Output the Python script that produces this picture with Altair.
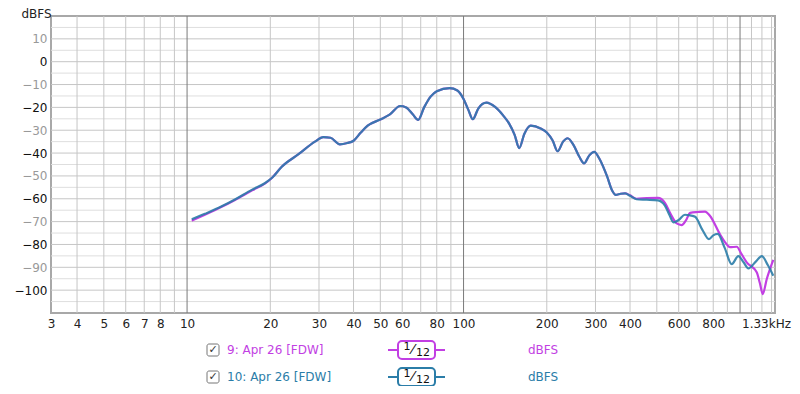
import altair as alt
import pandas as pd

# ---- data ----
FREQ_10 = [10.4, 11.6, 13.4, 14.9, 17.2, 19.1, 20.3, 22.0, 25.3, 29.0, 31.1, 33.0, 35.7, 38.0, 40.0,
           42.5, 45.0, 50.0, 54.0, 59.0, 62.0, 65.5, 68.5, 72.0, 76.0, 80.0, 89.0, 95.0, 100.0, 104.0,
           108.0, 113.0, 121.0, 130.0, 139.0, 146.0, 153.0, 159.0, 166.0, 175.0, 190.0, 200.0, 210.0,
           219.0, 229.0, 238.0, 250.0, 262.0, 273.0, 285.0, 297.0, 310.0, 330.0, 345.0, 355.0, 370.0,
           384.0, 400.0, 422.0, 460.0, 505.0, 535.0, 555.0, 574.0, 600.0, 632.0, 660.0, 688.0, 730.0,
           772.0, 800.0, 830.0, 880.0, 933.0, 986.0, 1030.0, 1072.0, 1140.0, 1199.0, 1260.0, 1319.0]
DB_10 = [-69.0, -66.6, -63.2, -60.3, -56.0, -53.2, -50.8, -46.0, -40.5, -35.0, -33.0, -33.3, -36.2, -35.6, -34.6,
         -31.0, -28.0, -25.3, -23.2, -19.4, -20.0, -23.0, -25.5, -20.0, -15.3, -12.9, -11.6, -12.6, -16.3, -21.0,
         -25.2, -20.5, -17.9, -19.8, -23.5, -27.0, -32.0, -37.8, -31.5, -28.0, -29.2, -31.0, -34.5,
         -39.2, -35.0, -33.5, -36.5, -41.5, -44.5, -41.0, -39.5, -42.5, -50.0, -56.5, -58.3, -57.8,
         -57.6, -58.7, -60.2, -60.4, -60.7, -63.0, -67.0, -70.3, -69.3, -67.0, -67.3, -67.9, -73.5,
         -77.7, -76.0, -75.4, -81.5, -88.6, -85.1, -87.8, -90.5, -87.5, -85.1, -89.0, -93.7]

FREQ_9 = [10.4, 11.6, 13.4, 14.9, 17.2, 19.1, 20.3, 22.0, 25.3, 29.0, 31.1, 33.0, 35.7, 38.0, 40.0,
          42.5, 45.0, 50.0, 54.0, 59.0, 62.0, 65.5, 68.5, 72.0, 76.0, 80.0, 89.0, 95.0, 100.0, 104.0,
          108.0, 113.0, 121.0, 130.0, 139.0, 146.0, 153.0, 159.0, 166.0, 175.0, 190.0, 200.0, 210.0,
          219.0, 229.0, 238.0, 250.0, 262.0, 273.0, 285.0, 297.0, 310.0, 330.0, 345.0, 355.0, 370.0,
          384.0, 400.0, 422.0, 460.0, 505.0, 535.0, 560.0, 590.0, 615.0, 637.0, 660.0, 705.0, 747.0,
          778.0, 845.0, 882.0, 920.0, 973.0, 1010.0, 1057.0, 1149.0, 1180.0, 1208.0, 1250.0, 1319.0]
DB_9 = [-69.6, -67.0, -63.4, -60.5, -56.3, -53.4, -50.8, -46.0, -40.5, -35.0, -33.0, -33.3, -36.2, -35.6, -34.6,
        -31.0, -28.0, -25.3, -23.2, -19.4, -20.0, -23.0, -25.5, -20.0, -15.3, -12.9, -11.6, -12.6, -16.3, -21.0,
        -25.2, -20.5, -17.9, -19.8, -23.5, -27.0, -32.0, -37.8, -31.5, -28.0, -29.2, -31.0, -34.5,
        -39.2, -35.0, -33.5, -36.5, -41.5, -44.5, -41.0, -39.5, -42.5, -50.0, -56.5, -58.3, -57.8,
        -57.6, -58.5, -60.0, -59.7, -59.6, -61.8, -66.5, -70.8, -71.5, -69.5, -66.2, -65.8, -65.6,
        -67.4, -75.4, -79.0, -81.2, -81.0, -84.0, -87.8, -92.2, -97.0, -101.7, -95.0, -86.7]

SERIES = ["9: Apr 26 [FDW]", "10: Apr 26 [FDW]"]
COLORS = ["#c23fe3", "#2b7da8"]

X_TICKS = [3.22, 4, 5, 6, 7, 8, 10, 20, 30, 40, 50, 60, 80, 100, 200, 300, 400, 600, 800, 1338]
X_GRID_MINOR = [4, 5, 6, 7, 8, 9, 20, 30, 40, 50, 60, 70, 80, 90, 200, 300, 400, 500, 600, 700,
                800, 900, 1100, 1200, 1300]
X_GRID_MAJOR = [10, 100, 1000]
Y_TICKS = [-100, -90, -80, -70, -60, -50, -40, -30, -20, -10, 0, 10]
Y_GRID_MINOR = [-105, -95, -85, -75, -65, -55, -45, -35, -25, -15, -5, 5, 15]

FONT = "DejaVu Sans"

xs = alt.Scale(type="log", domain=[3.22, 1338], nice=False)
ys = alt.Scale(domain=[-110, 20], nice=False)

xa = alt.Axis(values=X_TICKS, grid=False, ticks=False, domain=False, labelOverlap=False,
              labelFlush=False, labelPadding=5, labelFontSize=12, labelFont=FONT, labelColor="#222",
              labelExpr="datum.value < 3.5 ? '3' : (datum.value > 1300 ? '1.33kHz' : format(datum.value, 'd'))",
              labelOffset={"condition": {"test": "datum.value > 1300", "value": -9}, "value": 0},
              title=None)
ya = alt.Axis(values=Y_TICKS, grid=False, ticks=False, domain=False, labelPadding=4,
              labelFontSize=12, labelFont=FONT,
              labelColor={"condition": {"test": "datum.value % 20 == 0", "value": "#111"}, "value": "#999"},
              title="dBFS", titleAngle=0, titleAlign="left", titleBaseline="alphabetic",
              titleX=-30, titleY=1, titleFontWeight="normal", titleFontSize=12, titleFont=FONT,
              titleColor="#222")

df10 = pd.DataFrame({"f": FREQ_10, "db": DB_10})
df9 = pd.DataFrame({"f": FREQ_9, "db": DB_9})

layers = []
# grid
layers.append(alt.Chart(pd.DataFrame({"v": Y_GRID_MINOR})).mark_rule(color="#dedede", strokeWidth=1)
              .encode(y=alt.Y("v:Q", scale=ys, axis=ya)))
layers.append(alt.Chart(pd.DataFrame({"v": Y_TICKS})).mark_rule(color="#c6c6c6", strokeWidth=1)
              .encode(y=alt.Y("v:Q", scale=ys, axis=ya)))
layers.append(alt.Chart(pd.DataFrame({"v": X_GRID_MINOR})).mark_rule(color="#c6c6c6", strokeWidth=1)
              .encode(x=alt.X("v:Q", scale=xs, axis=xa)))
layers.append(alt.Chart(pd.DataFrame({"v": X_GRID_MAJOR})).mark_rule(color="#7a7a7a", strokeWidth=1)
              .encode(x=alt.X("v:Q", scale=xs, axis=xa)))

# curves
layers.append(alt.Chart(df9).mark_line(color=COLORS[0], strokeWidth=2.2, interpolate="monotone")
              .encode(x=alt.X("f:Q", scale=xs, axis=xa), y=alt.Y("db:Q", scale=ys, axis=ya)))
layers.append(alt.Chart(df10).mark_line(color=COLORS[1], strokeWidth=2.2, opacity=0.9, interpolate="monotone")
              .encode(x=alt.X("f:Q", scale=xs, axis=xa), y=alt.Y("db:Q", scale=ys, axis=ya)))

# legend rows below the plot
one = pd.DataFrame({"k": [0]})
for i, (name, col) in enumerate(zip(SERIES, COLORS)):
    cy = 334 + 27 * i
    layers.append(alt.Chart(one).mark_rect(fill="white", stroke="#777", strokeWidth=1, cornerRadius=2)
                  .encode(x=alt.value(156), x2=alt.value(168), y=alt.value(cy - 6), y2=alt.value(cy + 6)))
    layers.append(alt.Chart(one).mark_text(font=FONT, fontSize=11, color="#333", align="center", baseline="middle")
                  .encode(x=alt.value(162), y=alt.value(cy), text=alt.value("✓")))
    layers.append(alt.Chart(one).mark_text(font=FONT, fontSize=12, color=col, align="left", baseline="middle")
                  .encode(x=alt.value(176), y=alt.value(cy), text=alt.value(name)))
    layers.append(alt.Chart(one).mark_rule(color=col, strokeWidth=2)
                  .encode(x=alt.value(337), x2=alt.value(394), y=alt.value(cy)))
    layers.append(alt.Chart(one).mark_rect(fill="white", stroke=col, strokeWidth=2, cornerRadius=4)
                  .encode(x=alt.value(347), x2=alt.value(384), y=alt.value(cy - 9), y2=alt.value(cy + 9)))
    layers.append(alt.Chart(one).mark_text(font=FONT, fontSize=11, color="#111", align="center", baseline="middle")
                  .encode(x=alt.value(356), y=alt.value(cy - 3), text=alt.value("1")))
    layers.append(alt.Chart(one).mark_text(font=FONT, fontSize=14, color="#111", align="center", baseline="middle")
                  .encode(x=alt.value(362), y=alt.value(cy), text=alt.value("⁄")))
    layers.append(alt.Chart(one).mark_text(font=FONT, fontSize=11, color="#111", align="center", baseline="middle")
                  .encode(x=alt.value(372), y=alt.value(cy + 3), text=alt.value("12")))
    layers.append(alt.Chart(one).mark_text(font=FONT, fontSize=12, color=col, align="left", baseline="middle")
                  .encode(x=alt.value(477), y=alt.value(cy), text=alt.value("dBFS")))

chart = alt.layer(*layers).properties(
    width=724, height=297,
    padding={"left": 43, "top": 8, "right": 17, "bottom": 73},
    autosize=alt.AutoSizeParams(type="none"),
    background="white",
).configure_view(stroke="#a8a8a8", strokeWidth=2)

chart.save("out.html", embed_options={"renderer": "svg", "actions": False})
